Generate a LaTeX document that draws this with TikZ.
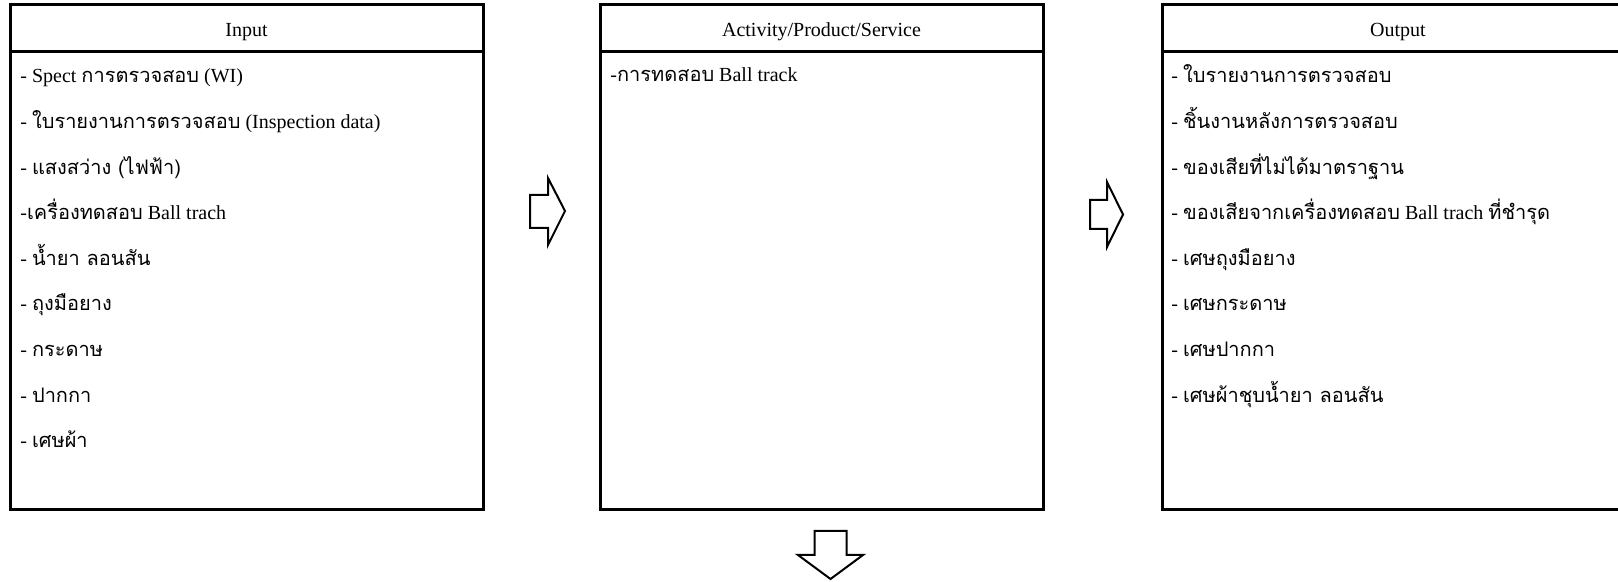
\documentclass[tikz,border=0pt]{standalone}
\usepackage{fontspec}
\setmainfont{Liberation Serif}
\newfontfamily\thaifont[Script=Thai]{Loma}
\newcommand{\tha}[1]{{\thaifont #1}}
\usetikzlibrary{positioning}

\tikzset{
  headbox/.style={draw, line width=1.5pt, outer sep=0pt, inner sep=0pt, text height=8.5pt, text depth=0pt, font=\fontsize{10}{12}\selectfont},
  bodybox/.style={draw, line width=1.5pt, outer sep=0pt, inner sep=0pt},
  item/.style={anchor=base west, inner sep=0pt, font=\fontsize{10}{12}\selectfont},
  flow/.style={draw, line width=1pt, line join=miter},
}

\begin{document}
\begin{tikzpicture}[x=0.5pt,y=-0.5pt]
\useasboundingbox (0,0) rectangle (1618,582);
\clip (0,0) rectangle (1618,582);
% Box 1: Input
\node[headbox, minimum width=236.5pt, minimum height=23.5pt] (inhead) at (246.5,28.5) {Input};
\node[bodybox, minimum width=236.5pt, minimum height=229pt, below=0pt of inhead] (inbody) {};
\foreach \t [count=\i] in {
  - Spect \tha{การตรวจสอบ} (WI),
  - \tha{ใบรายงานการตรวจสอบ} (Inspection data),
  - \tha{แสงสว่าง (ไฟฟ้า)},
  -\tha{เครื่องทดสอบ} Ball trach,
  - \tha{น้ำยา ลอนสัน},
  - \tha{ถุงมือยาง},
  - \tha{กระดาษ},
  - \tha{ปากกา},
  - \tha{เศษผ้า}}
  \node[item] (in\i) at (20,{83+45.6*(\i-1)}) {\t};
% Box 2: Activity/Product/Service
\node[headbox, minimum width=221.5pt, minimum height=23.5pt] (acthead) at (821.5,28.5) {Activity/Product/Service};
\node[bodybox, minimum width=221.5pt, minimum height=229pt, below=0pt of acthead] (actbody) {};
\node[item] (act1) at (610,82) {-\tha{การทดสอบ} Ball track};
% Box 3: Output
\node[headbox, minimum width=236pt, minimum height=23.5pt] (outhead) at (1398,28.5) {Output};
\node[bodybox, minimum width=236pt, minimum height=229pt, below=0pt of outhead] (outbody) {};
\foreach \t [count=\i] in {
  - \tha{ใบรายงานการตรวจสอบ},
  - \tha{ชิ้นงานหลังการตรวจสอบ},
  - \tha{ของเสียที่ไม่ได้มาตราฐาน},
  - \tha{ของเสียจากเครื่องทดสอบ} Ball trach \tha{ที่ชำรุด},
  - \tha{เศษถุงมือยาง},
  - \tha{เศษกระดาษ},
  - \tha{เศษปากกา},
  - \tha{เศษผ้าชุบน้ำยา ลอนสัน}}
  \node[item] (out\i) at (1171,{83+45.6*(\i-1)}) {\t};
% Arrows
\coordinate (arr1) at (530,211);
\coordinate (arr2) at (1090,214.5);
\coordinate (arr3) at (830.5,531);
\draw[flow] (arr1) ++(0,-16) -- ++(18,0) -- ++(0,-17) -- ++(17,33) -- ++(-17,34) -- ++(0,-17) -- ++(-18,0) -- cycle;
\draw[flow] (arr2) ++(0,-14.5) -- ++(17,0) -- ++(0,-18) -- ++(16,32.5) -- ++(-16,32.5) -- ++(0,-18) -- ++(-17,0) -- cycle;
\draw[flow] (arr3) ++(-16,0) -- ++(0,24) -- ++(-16.5,0) -- ++(32.5,24) -- ++(32.5,-24) -- ++(-16.5,0) -- ++(0,-24) -- cycle;
\end{tikzpicture}
\end{document}
